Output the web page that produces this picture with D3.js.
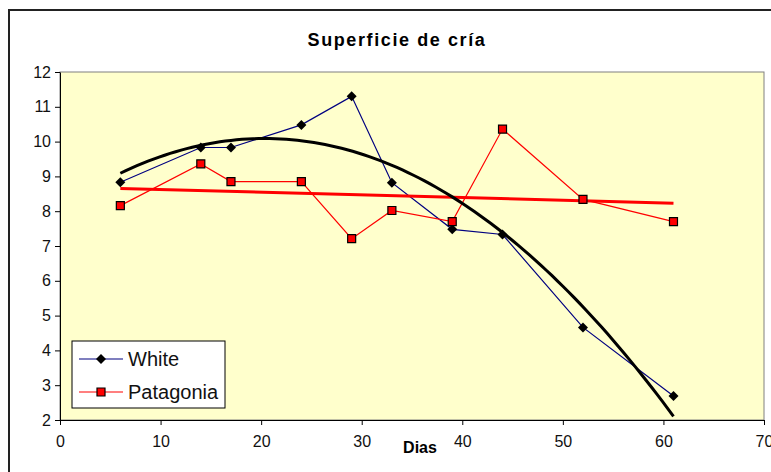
<!DOCTYPE html>
<html>
<head>
<meta charset="utf-8">
<script src="https://cdn.jsdelivr.net/npm/d3@7"></script>
<style>
  body { margin: 0; background: #fff; }
  svg { display: block; font-family: "Liberation Sans", Arial, sans-serif; }
</style>
</head>
<body>
<div id="chart"></div>
<script>
// Chart size
const width = 771;
const height = 472;
const plot = {left: 60, right: 764, top: 72, bottom: 420};

// Data
const days = [6, 14, 17, 24, 29, 33, 39, 44, 52, 61];
const white = [8.83, 9.83, 9.83, 10.48, 11.3, 8.82, 7.48, 7.33, 4.66, 2.69];
const patagonia = [8.16, 9.36, 8.85, 8.85, 7.21, 8.02, 7.7, 10.36, 8.34, 7.7];
const xTicks = [0, 10, 20, 30, 40, 50, 60, 70];
const yTicks = [2, 3, 4, 5, 6, 7, 8, 9, 10, 11, 12];

const svg = d3.select("#chart")
  .append("svg")
  .attr("width", width)
  .attr("height", height);

// outer chart border
svg.append("rect")
  .attr("x", 9).attr("y", 10)
  .attr("width", 800).attr("height", 500)
  .attr("fill", "#fff")
  .attr("stroke", "#222")
  .attr("stroke-width", 2);

// Scales
const x = d3.scaleLinear().domain([0, 70]).range([plot.left, plot.right]);
const y = d3.scaleLinear().domain([2, 12]).range([plot.bottom, plot.top]);

// plot area
svg.append("rect")
  .attr("x", plot.left).attr("y", plot.top)
  .attr("width", plot.right - plot.left)
  .attr("height", plot.bottom - plot.top)
  .attr("fill", "#FFFFCC")
  .attr("stroke", "#808080")
  .attr("stroke-width", 1);

// Axes
const yAxis = svg.append("g")
  .attr("transform", `translate(${plot.left},0)`)
  .call(d3.axisLeft(y).tickValues(yTicks).tickSize(5).tickSizeOuter(0).tickPadding(4));
const xAxis = svg.append("g")
  .attr("transform", `translate(0,${plot.bottom})`)
  .call(d3.axisBottom(x).tickValues(xTicks).tickSize(5).tickSizeOuter(0).tickPadding(11));
[yAxis, xAxis].forEach(g => {
  g.attr("font-family", null).attr("font-size", 16);
  g.selectAll("path, line").attr("stroke", "#000");
  g.selectAll("text").attr("fill", "#111");
});

// Title and axis label
svg.append("text")
  .attr("x", 397).attr("y", 46)
  .attr("text-anchor", "middle")
  .attr("font-size", 18).attr("font-weight", "bold")
  .attr("letter-spacing", 1.6)
  .text("Superficie de cría");

svg.append("text")
  .attr("x", 420).attr("y", 453)
  .attr("text-anchor", "middle")
  .attr("font-size", 16).attr("font-weight", "bold")
  .text("Dias");

// least squares polynomial fit (Excel-style trendline)
function polyFit(xs, ys, deg) {
  const n = deg + 1;
  const A = [];
  for (let r = 0; r < n; r++) {
    A.push([]);
    for (let c = 0; c < n; c++) A[r].push(d3.sum(xs, v => Math.pow(v, r + c)));
    A[r].push(d3.sum(xs, (v, i) => Math.pow(v, r) * ys[i]));
  }
  for (let i = 0; i < n; i++) {
    let p = i;
    for (let k = i + 1; k < n; k++) if (Math.abs(A[k][i]) > Math.abs(A[p][i])) p = k;
    [A[i], A[p]] = [A[p], A[i]];
    for (let k = i + 1; k < n; k++) {
      const f = A[k][i] / A[i][i];
      for (let c = i; c <= n; c++) A[k][c] -= f * A[i][c];
    }
  }
  const coef = new Array(n).fill(0);
  for (let i = n - 1; i >= 0; i--) {
    let s = A[i][n];
    for (let c = i + 1; c < n; c++) s -= A[i][c] * coef[c];
    coef[i] = s / A[i][i];
  }
  return t => coef.reduce((acc, c, i) => acc + c * Math.pow(t, i), 0);
}

const line = d3.line().x(d => x(d[0])).y(d => y(d[1]));

// data lines
svg.append("path")
  .datum(days.map((d, i) => [d, white[i]]))
  .attr("d", line)
  .attr("fill", "none").attr("stroke", "#000080").attr("stroke-width", 1.2);

svg.append("path")
  .datum(days.map((d, i) => [d, patagonia[i]]))
  .attr("d", line)
  .attr("fill", "none").attr("stroke", "#FF0000").attr("stroke-width", 1.2);

// trendlines
const patFit = polyFit(days, patagonia, 1);
svg.append("path")
  .datum(d3.extent(days).map(t => [t, patFit(t)]))
  .attr("d", line)
  .attr("fill", "none").attr("stroke", "#FF0000").attr("stroke-width", 3);

const whiteFit = polyFit(days, white, 2);
const x0 = d3.min(days), x1 = d3.max(days);
svg.append("path")
  .datum(d3.range(0, 101).map(k => { const t = x0 + (x1 - x0) * k / 100; return [t, whiteFit(t)]; }))
  .attr("d", line)
  .attr("fill", "none").attr("stroke", "#000").attr("stroke-width", 3);

// markers
const diamond = d3.symbol().type(d3.symbolSquare).size(50);
const square = d3.symbol().type(d3.symbolSquare).size(64);

svg.selectAll(".wdot")
  .data(days)
  .enter()
  .append("path")
    .attr("class", "wdot")
    .attr("d", diamond)
    .attr("transform", (d, i) => `translate(${x(d)},${y(white[i])}) rotate(45)`)
    .attr("fill", "#000");

svg.selectAll(".pdot")
  .data(days)
  .enter()
  .append("path")
    .attr("class", "pdot")
    .attr("d", square)
    .attr("transform", (d, i) => `translate(${x(d)},${y(patagonia[i])})`)
    .attr("fill", "#FF0000").attr("stroke", "#000").attr("stroke-width", 1.2);

// Legend
const legend = svg.append("g");
legend.append("rect")
  .attr("x", 72).attr("y", 341)
  .attr("width", 153).attr("height", 67)
  .attr("fill", "#fff").attr("stroke", "#000").attr("stroke-width", 1);

const items = [
  {name: "White", color: "#000080", sym: diamond, rot: 45, fill: "#000", stroke: "none", yy: 359},
  {name: "Patagonia", color: "#FF0000", sym: square, rot: 0, fill: "#FF0000", stroke: "#000", yy: 392}
];
items.forEach(it => {
  legend.append("line")
    .attr("x1", 79).attr("x2", 123)
    .attr("y1", it.yy).attr("y2", it.yy)
    .attr("stroke", it.color).attr("stroke-width", 1.2);
  legend.append("path")
    .attr("d", it.sym)
    .attr("transform", `translate(101,${it.yy}) rotate(${it.rot})`)
    .attr("fill", it.fill).attr("stroke", it.stroke).attr("stroke-width", 1.2);
  legend.append("text")
    .attr("x", 128).attr("y", it.yy + 7)
    .attr("font-size", 20)
    .attr("fill", "#111")
    .text(it.name);
});
</script>
</body>
</html>
